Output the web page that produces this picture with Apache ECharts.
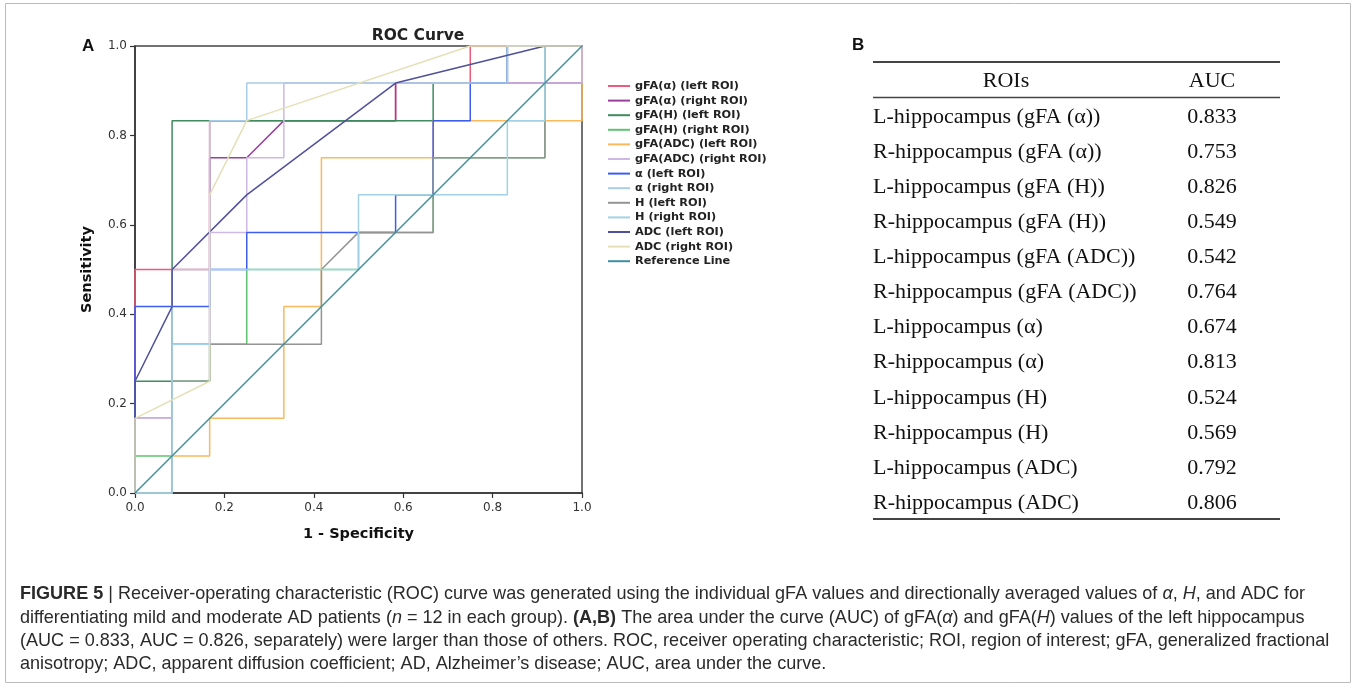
<!DOCTYPE html>
<html><head><meta charset="utf-8">
<script src="https://cdn.jsdelivr.net/npm/echarts@6/dist/echarts.min.js"></script>
<style>html,body{margin:0;padding:0;background:#fff}#c{width:1357px;height:689px}</style>
</head><body><div id="c"></div>
<script>
// ---------- data ----------
const seriesNames = ['gFA(α) (left ROI)','gFA(α) (right ROI)','gFA(H) (left ROI)','gFA(H) (right ROI)',
  'gFA(ADC) (left ROI)','gFA(ADC) (right ROI)','α (left ROI)','α (right ROI)','H (left ROI)','H (right ROI)',
  'ADC (left ROI)','ADC (right ROI)','Reference Line'];
const seriesColors = ['#ee5a78','#9a3f9e','#3f8b5e','#5ec46f','#f9b95c','#cdb9e3','#3d5df2','#a9cde9',
  '#949494','#a3d2e6','#50509a','#e4e0b8','#3f8ea0'];
// [1 - specificity, sensitivity]
const gFAalphaLeft = [[0,0],[0,0.5],[0.167,0.5],[0.167,0.833],[0.583,0.833],[0.583,0.917],[0.75,0.917],[0.75,1],[1,1]];
const gFAalphaRight = [[0,0],[0,0.167],[0.083,0.167],[0.083,0.25],[0.167,0.25],[0.167,0.75],[0.25,0.75],[0.333,0.833],[0.583,0.833],[0.583,0.917],[1,0.917],[1,1]];
const gFAHLeft = [[0,0],[0,0.25],[0.083,0.25],[0.083,0.833],[0.667,0.833],[0.667,0.917],[0.833,0.917],[0.833,1],[1,1]];
const gFAHRight = [[0,0],[0,0.083],[0.083,0.083],[0.083,0.25],[0.167,0.25],[0.167,0.333],[0.25,0.333],[0.25,0.5],[0.5,0.5],[0.5,0.583],[0.667,0.583],[0.667,0.75],[0.917,0.75],[0.917,1],[1,1]];
const gFAADCLeft = [[0,0],[0.083,0],[0.083,0.083],[0.167,0.083],[0.167,0.167],[0.333,0.167],[0.333,0.417],[0.417,0.417],[0.417,0.75],[0.667,0.75],[0.667,0.833],[1,0.833],[1,1]];
const gFAADCRight = [[0,0],[0,0.167],[0.083,0.167],[0.083,0.333],[0.167,0.333],[0.167,0.583],[0.25,0.583],[0.25,0.75],[0.333,0.75],[0.333,0.917],[1,0.917],[1,1]];
const alphaLeft = [[0,0],[0,0.417],[0.167,0.417],[0.167,0.5],[0.25,0.5],[0.25,0.583],[0.583,0.583],[0.583,0.667],[0.667,0.667],[0.667,0.833],[0.75,0.833],[0.75,0.917],[0.833,0.917],[0.833,1],[1,1]];
const alphaRight = [[0,0],[0.083,0],[0.083,0.5],[0.167,0.5],[0.167,0.833],[0.25,0.833],[0.25,0.917],[0.833,0.917],[0.833,1],[1,1]];
const hLeft = [[0,0],[0.083,0],[0.083,0.333],[0.417,0.333],[0.417,0.5],[0.5,0.583],[0.667,0.583],[0.667,0.75],[0.917,0.75],[0.917,1],[1,1]];
const hRight = [[0,0],[0.083,0],[0.083,0.333],[0.167,0.333],[0.167,0.5],[0.5,0.5],[0.5,0.667],[0.833,0.667],[0.833,0.833],[0.917,0.833],[0.917,1],[1,1]];
const adcLeft = [[0,0],[0,0.25],[0.083,0.417],[0.083,0.5],[0.25,0.667],[0.583,0.917],[0.917,1],[1,1]];
const adcRight = [[0,0],[0,0.167],[0.167,0.25],[0.167,0.667],[0.25,0.833],[0.75,1],[1,1]];
const referenceLine = [[0,0],[1,1]];
const curves = [gFAalphaLeft,gFAalphaRight,gFAHLeft,gFAHRight,gFAADCLeft,gFAADCRight,alphaLeft,alphaRight,hLeft,hRight,adcLeft,adcRight,referenceLine];

const roiLabels = ['L-hippocampus (gFA (α))','R-hippocampus (gFA (α))','L-hippocampus (gFA (H))','R-hippocampus (gFA (H))',
  'L-hippocampus (gFA (ADC))','R-hippocampus (gFA (ADC))','L-hippocampus (α)','R-hippocampus (α)',
  'L-hippocampus (H)','R-hippocampus (H)','L-hippocampus (ADC)','R-hippocampus (ADC)'];
const aucValues = [0.833,0.753,0.826,0.549,0.542,0.764,0.674,0.813,0.524,0.569,0.792,0.806];

const captionLines = [
  '{b|FIGURE 5} | Receiver-operating characteristic (ROC) curve was generated using the individual gFA values and directionally averaged values of {i|α}, {i|H}, and ADC for',
  'differentiating mild and moderate AD patients ({i|n} = 12 in each group). {b|(A,B)} The area under the curve (AUC) of gFA({i|α}) and gFA({i|H}) values of the left hippocampus',
  '(AUC = 0.833, AUC = 0.826, separately) were larger than those of others. ROC, receiver operating characteristic; ROI, region of interest; gFA, generalized fractional',
  'anisotropy; ADC, apparent diffusion coefficient; AD, Alzheimer\u2019s disease; AUC, area under the curve.'
];

// ---------- chart ----------
const chart = echarts.init(document.getElementById('c'), null, {renderer:'canvas'});
const axisCommon = {
  type:'value', min:0, max:1, interval:0.2,
  axisLine:{show:true, lineStyle:{color:'#333', width:1.5}},
  axisTick:{show:true, inside:false, length:5, lineStyle:{color:'#333', width:1.2}},
  splitLine:{show:false},
  axisLabel:{color:'#333', fontSize:12, fontFamily:'DejaVu Sans', formatter:v=>v.toFixed(1)},
  nameLocation:'middle',
  nameTextStyle:{color:'#111', fontSize:14.5, fontWeight:'bold', fontFamily:'DejaVu Sans'}
};

const graphics = [];
graphics.push({type:'text', style:{x:82, y:46, text:'A', font:'bold 17px "Liberation Sans"', fill:'#111', verticalAlign:'middle'}});
graphics.push({type:'text', style:{x:852, y:45, text:'B', font:'bold 17px "Liberation Sans"', fill:'#111', verticalAlign:'middle'}});
// table
const tL = 873, tR = 1280, valX = 1212;
graphics.push({type:'line', shape:{x1:tL, y1:62, x2:tR, y2:62}, style:{stroke:'#444', lineWidth:2}});
graphics.push({type:'line', shape:{x1:tL, y1:97.5, x2:tR, y2:97.5}, style:{stroke:'#444', lineWidth:1.5}});
graphics.push({type:'line', shape:{x1:tL, y1:519, x2:tR, y2:519}, style:{stroke:'#444', lineWidth:2}});
const serif = '22px "Liberation Serif"';
graphics.push({type:'text', style:{x:1006, y:81, text:'ROIs', font:serif, fill:'#111', align:'center', verticalAlign:'middle'}});
graphics.push({type:'text', style:{x:valX, y:81, text:'AUC', font:serif, fill:'#111', align:'center', verticalAlign:'middle'}});
roiLabels.forEach((lab, i) => {
  const y = 117 + i * 35.1;
  graphics.push({type:'text', style:{x:tL, y:y, text:lab, font:serif, fill:'#111', verticalAlign:'middle'}});
  graphics.push({type:'text', style:{x:valX, y:y, text:aucValues[i].toFixed(3), font:serif, fill:'#111', align:'center', verticalAlign:'middle'}});
});
// caption
const capFont = '"Liberation Sans"';
captionLines.forEach((ln, i) => {
  graphics.push({type:'text', x:20, y:594 + i * 23.4, scaleX:0.95,
    style:{x:0, y:0, text:ln, fill:'#2a2a2a', verticalAlign:'middle', fontSize:19, fontFamily:capFont,
    rich:{b:{fontWeight:'bold', fontSize:19, fontFamily:capFont, fill:'#2a2a2a'},
          i:{fontStyle:'italic', fontSize:19, fontFamily:capFont, fill:'#2a2a2a'}}}});
});
// frame
graphics.push({type:'rect', shape:{x:5.5, y:3.5, width:1345, height:679}, style:{fill:'none', stroke:'#bbb', lineWidth:1}});

chart.setOption({
  animation:false,
  backgroundColor:'#fff',
  title:{text:'ROC Curve', left:413, top:23, textAlign:'center',
    textStyle:{fontSize:15.5, fontWeight:'bold', color:'#222', fontFamily:'DejaVu Sans'}},
  legend:{
    orient:'vertical', left:603, top:75, itemWidth:22, itemHeight:2, itemGap:2.6,
    icon:'rect',
    textStyle:{fontSize:11.3, lineHeight:12, fontWeight:'bold', color:'#222', fontFamily:'DejaVu Sans'},
    data:seriesNames.map((n,i)=>({name:n, itemStyle:{color:seriesColors[i]}}))
  },
  grid:{left:135, top:46, width:447, height:447, show:true, borderColor:'#444', borderWidth:1.5, backgroundColor:'transparent'},
  xAxis:Object.assign({}, axisCommon, {name:'1 - Specificity', nameGap:34,
    axisLabel:Object.assign({}, axisCommon.axisLabel, {margin:9})}),
  yAxis:Object.assign({}, axisCommon, {name:'Sensitivity', nameGap:40,
    axisLabel:Object.assign({}, axisCommon.axisLabel, {margin:8})}),
  series:curves.map((d,i)=>({
    name:seriesNames[i], type:'line', data:d, symbol:'none', clip:false, silent:true,
    lineStyle:{color:seriesColors[i], width:1.5}, itemStyle:{color:seriesColors[i]}
  })),
  graphic:graphics
});
</script></body></html>
